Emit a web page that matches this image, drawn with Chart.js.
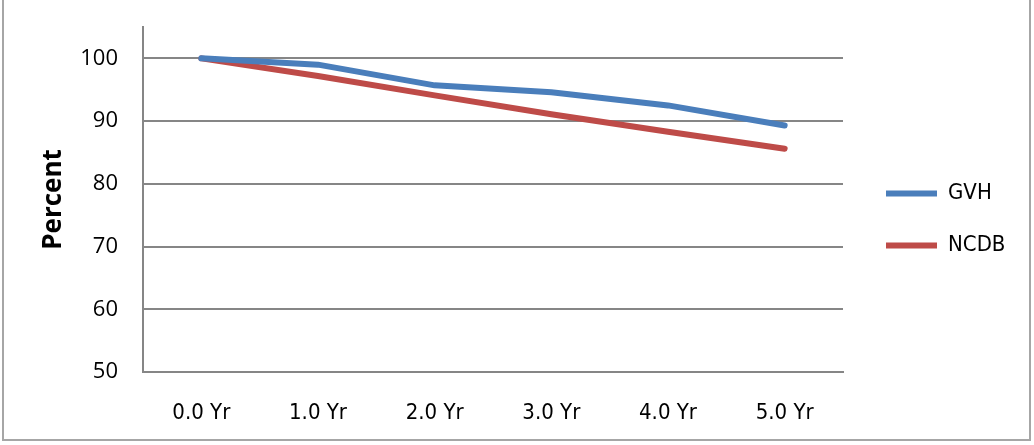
<!DOCTYPE html>
<html>
<head>
<meta charset="utf-8">
<script src="https://cdn.jsdelivr.net/npm/chart.js@4/dist/chart.umd.min.js"></script>
<style>
  html, body { margin: 0; padding: 0; background: #fff; }
  #wrap { position: relative; width: 1034px; height: 445px; }
  #frame {
    position: absolute; left: 2px; top: -4px; width: 1029px; height: 445px;
    border: 2px solid #a6a6a6; box-sizing: border-box; pointer-events: none;
  }
  canvas { position: absolute; left: 0; top: 0; }
</style>
</head>
<body>
<div id="wrap">
  <canvas id="chart" width="1034" height="445"></canvas>
  <div id="frame"></div>
</div>
<script>
// Survival over time, in percent
const years = ['0.0 Yr', '1.0 Yr', '2.0 Yr', '3.0 Yr', '4.0 Yr', '5.0 Yr'];
const gvh = [100, 99.0, 95.7, 94.6, 92.5, 89.3];
const ncdb = [100, 97.2, 94.1, 91.1, 88.3, 85.6];
const yTicks = [50, 60, 70, 80, 90, 100];

const gridGray = '#868686';
const narrowFont = '"DejaVu Sans Condensed", "Open Sans", sans-serif';

// Fixed legend width, then slide the legend block into place beside the plot
const legendPlacement = {
  id: 'legendPlacement',
  afterInit(chart) {
    const legend = chart.legend;
    const fit = legend.fit;
    legend.fit = function () {
      fit.call(this);
      this.width = 191;
    };
  },
  afterLayout(chart) {
    const lg = chart.legend;
    const dx = 13, dy = -15;
    lg.left += dx; lg.right += dx;
    lg.top += dy; lg.bottom += dy;
  }
};

new Chart(document.getElementById('chart'), {
  type: 'line',
  data: {
    labels: years,
    datasets: [
      {
        label: 'GVH',
        data: gvh,
        borderColor: '#4A7EBB',
        backgroundColor: '#4A7EBB',
        borderWidth: 6,
        borderCapStyle: 'round',
        borderJoinStyle: 'round',
        pointRadius: 0,
        tension: 0
      },
      {
        label: 'NCDB',
        data: ncdb,
        borderColor: '#BE4B48',
        backgroundColor: '#BE4B48',
        borderWidth: 6,
        borderCapStyle: 'round',
        borderJoinStyle: 'round',
        pointRadius: 0,
        tension: 0
      }
    ]
  },
  options: {
    responsive: false,
    animation: false,
    layout: { padding: { left: 3, top: 27, right: 0, bottom: 3 } },
    plugins: {
      tooltip: { enabled: false },
      legend: {
        position: 'right',
        labels: {
          usePointStyle: true,
          pointStyle: 'line',
          pointStyleWidth: 51,
          padding: 30,
          color: '#000',
          font: { family: narrowFont, size: 22 }
        }
      }
    },
    scales: {
      x: {
        offset: true,
        grid: { display: false, drawTicks: false },
        border: { display: true, color: gridGray, width: 2 },
        ticks: {
          padding: 28,
          color: '#000',
          maxRotation: 0,
          font: { family: narrowFont, size: 22 }
        },
        afterFit(scale) { scale.height = 70; }
      },
      y: {
        min: 50,
        max: 105,
        afterBuildTicks(scale) {
          scale.ticks = yTicks.map(v => ({ value: v }));
        },
        grid: { color: gridGray, lineWidth: 2, drawTicks: false },
        border: { display: true, color: gridGray, width: 2 },
        ticks: {
          padding: 25,
          color: '#000',
          font: { family: 'Open Sans', size: 22 }
        },
        title: {
          display: true,
          text: 'Percent',
          color: '#000',
          padding: { top: 35, bottom: 0 },
          font: { family: 'Open Sans', size: 26, weight: 'bold' }
        },
        afterFit(scale) {
          scale.width = 140;
          // the top label (100) sits well below the axis end, so no overhang room is needed
          scale.paddingTop = 0;
          scale.paddingBottom = 0;
        }
      }
    }
  },
  plugins: [legendPlacement]
});
</script>
</body>
</html>
